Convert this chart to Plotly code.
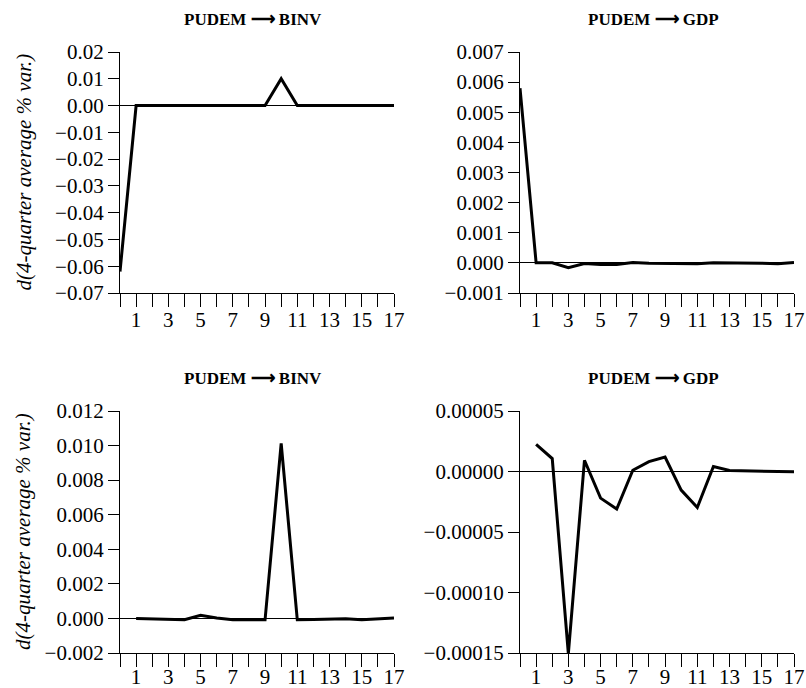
import plotly.graph_objects as go

# ---- data ----
x_a = list(range(0, 18))
binv_a = [-0.062, 0.0, 0.0, 0.0, 0.0, 0.0, 0.0, 0.0, 0.0, 0.0, 0.010, 0.0, 0.0, 0.0, 0.0, 0.0, 0.0, 0.0]
gdp_a = [0.0058, 0.0, 0.0, -0.00016, -0.00002, -0.00005, -0.00005, 0.00001, -0.00001, -0.00002,
         -0.00002, -0.00003, 0.0, 0.0, 0.0, -0.00001, -0.00003, 0.00001]
x_b = list(range(1, 18))
binv_b = [-0.00001, -0.00002, -0.00005, -0.00008, 0.00018, 0.00002, -0.00008, -0.00008, -0.00008,
          0.01013, -0.00008, -0.00006, -0.00004, -0.00002, -0.00008, -0.00004, 0.00003]
gdp_b = [0.0000225, 0.0000107, -0.0001505, 0.0000093, -0.000022, -0.000031, 0.000001, 0.0000082,
         0.000012, -0.0000154, -0.0000297, 0.0000041, 0.0000008, 0.0000005, 0.0000005, -0.0000003,
         -0.0000003]

titles = ["PUDEM ⟶ BINV", "PUDEM ⟶ GDP", "PUDEM ⟶ BINV", "PUDEM ⟶ GDP"]
ytitle = "d(4-quarter average % var.)"
xtick_vals = list(range(1, 18, 2))
xtick_text = [str(v) for v in xtick_vals]

W, H = 806, 688
FONT = "'Liberation Serif', 'Times New Roman', serif"

panels = [
    dict(x=x_a, y=binv_a, px=(120, 394), py=(52, 293), yr=[-0.07, 0.02], dt=0.01, fmt=".2f", so=-5),
    dict(x=x_a, y=gdp_a, px=(520, 794), py=(52, 293), yr=[-0.001, 0.007], dt=0.001, fmt=".3f", so=-5),
    dict(x=x_b, y=binv_b, px=(120, 394), py=(411, 653), yr=[-0.002, 0.012], dt=0.002, fmt=".3f", so=-8),
    dict(x=x_b, y=gdp_b, px=(520, 794), py=(411, 653), yr=[-0.00015, 0.00005], dt=0.00005, fmt=".5f", so=-8),
]

fig = go.Figure()
annotations = []
for i, p in enumerate(panels):
    n = "" if i == 0 else str(i + 1)
    fig.add_trace(go.Scatter(x=p["x"], y=p["y"], mode="lines",
                             line=dict(color="black", width=3),
                             xaxis="x" + n, yaxis="y" + n, showlegend=False))
    xd = [p["px"][0] / W, p["px"][1] / W]
    yd = [1 - p["py"][1] / H, 1 - p["py"][0] / H]
    fig.layout["xaxis" + n] = dict(
        domain=xd, range=[0, 17], anchor="y" + n, automargin=False,
        showline=True, linecolor="black", linewidth=1.3,
        ticks="outside", ticklen=13, tickwidth=1, tickcolor="black",
        tickvals=xtick_vals, ticktext=xtick_text, ticklabelstandoff=p["so"],
        minor=dict(tick0=0, dtick=1, ticks="outside", ticklen=13, tickwidth=1, tickcolor="black"),
        showgrid=False, zeroline=False,
        tickfont=dict(family=FONT, size=21, color="black"),
    )
    fig.layout["yaxis" + n] = dict(
        domain=yd, range=p["yr"], anchor="x" + n, automargin=False,
        showline=True, linecolor="black", linewidth=1.3,
        ticks="outside", ticklen=11, tickwidth=1, tickcolor="black",
        tick0=0, dtick=p["dt"], tickformat=p["fmt"],
        showgrid=False, zeroline=True, zerolinecolor="black", zerolinewidth=1,
        tickfont=dict(family=FONT, size=21, color="black"),
    )
    cx = (p["px"][0] + p["px"][1]) / 2 - 4
    ty = p["py"][0] - 33
    annotations.append(dict(text="<b>" + titles[i] + "</b>", x=cx / W, y=1 - ty / H,
                            xref="paper", yref="paper", showarrow=False,
                            xanchor="center", yanchor="middle",
                            font=dict(family=FONT, size=17, color="black")))
    if i % 2 == 0:
        cy = (p["py"][0] + p["py"][1]) / 2
        annotations.append(dict(text="<i>" + ytitle + "</i>", x=23 / W, y=1 - cy / H,
                                xref="paper", yref="paper", showarrow=False, textangle=-90,
                                xanchor="center", yanchor="middle",
                                font=dict(family=FONT, size=21, color="black")))

fig.update_layout(template="none", width=W, height=H, margin=dict(l=0, r=0, t=0, b=0),
                  paper_bgcolor="white", plot_bgcolor="white",
                  annotations=annotations)
fig.write_html("out.html")
